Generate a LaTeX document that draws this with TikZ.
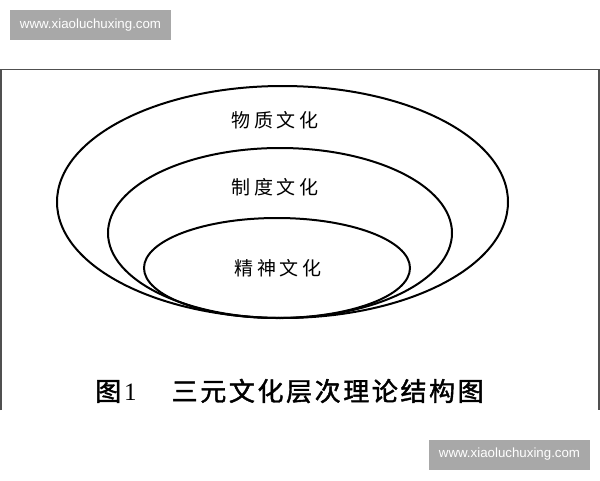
\documentclass[tikz,border=0pt]{standalone}
\usepackage{fontspec}
\setmainfont{Liberation Serif}
\setsansfont{Liberation Sans}
\newfontfamily\cjk[LetterSpace=20]{Noto Sans CJK SC}
\newfontfamily\cjkcap[LetterSpace=10, FakeBold=1.6]{Noto Sans CJK SC}
\usetikzlibrary{shapes.geometric}
\definecolor{markgray}{RGB}{168,168,168}
\definecolor{framegray}{RGB}{80,80,80}

\begin{document}
\begin{tikzpicture}[x=1pt, y=-1pt,
  layer/.style={ellipse, draw, line width=2pt, inner sep=0pt},
  layertext/.style={font=\cjk\fontsize{19}{19}\selectfont, inner sep=0pt},
  markbox/.style={fill=markgray, text=white, inner sep=0pt, minimum width=161pt, minimum height=30pt, font=\sffamily\fontsize{13.3}{13}\selectfont}]
\useasboundingbox (0,0) rectangle (600,480);

% frame
\draw[framegray, line width=1.5pt] (1,410) -- (1,69.5) -- (599,69.5) -- (599,410);

% watermarks
\node[markbox] (markA) at (90.5,25) {www.xiaoluchuxing.com};
\node[markbox] (markB) at (509.5,454.5) {www.xiaoluchuxing.com};

% three layers
\node[layer, minimum width=451pt, minimum height=232pt] (outer) at (282.5,202) {};
\node[layer, minimum width=344pt, minimum height=170pt] (middle) at (280,233) {};
\node[layer, minimum width=266pt, minimum height=100pt] (inner) at (277,268) {};

\node[layertext] (wuzhi) at (275,120) {物质文化};
\node[layertext] (zhidu) at (275,187) {制度文化};
\node[layertext] (jingshen) at (278,268) {精神文化};

% caption
\node[anchor=west, inner sep=0pt] (caption) at (95,391)
  {\fontsize{26}{26}\selectfont\cjkcap 图\hspace{3pt}{\rmfamily\fontsize{25}{25}\selectfont 1}\hspace{35pt}三元文化层次理论结构图};

\end{tikzpicture}
\end{document}
